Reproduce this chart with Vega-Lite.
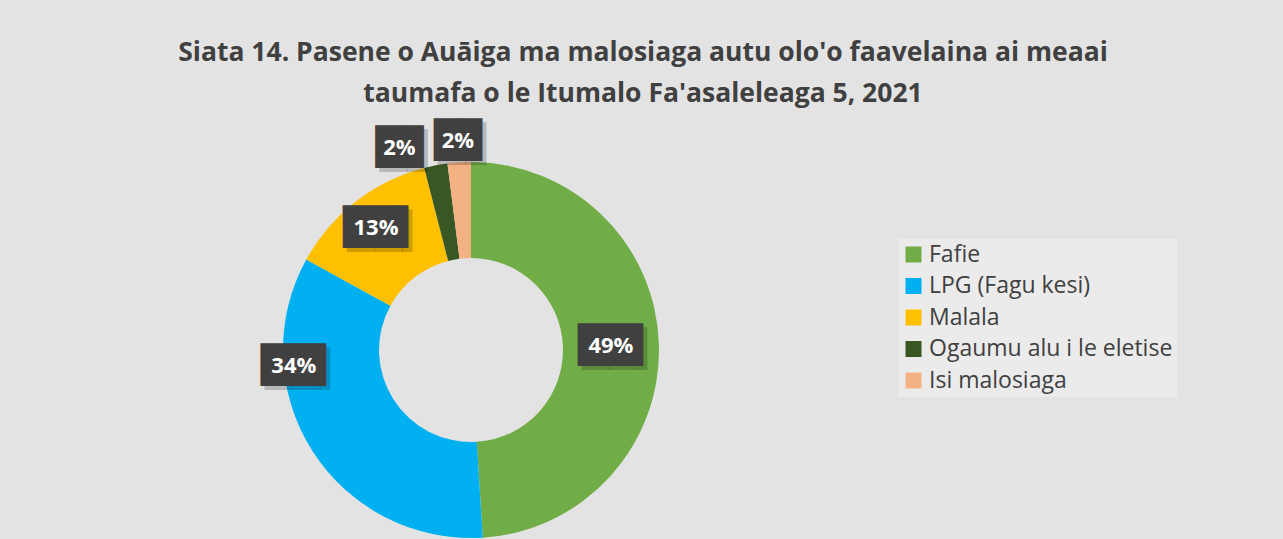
{
  "$schema": "https://vega.github.io/schema/vega-lite/v6.json",
  "width": 942,
  "height": 378,
  "autosize": {"type": "none"},
  "padding": {"left": 0, "top": 161, "right": 341, "bottom": 0},
  "background": "#e3e3e3",
  "title": {
    "text": ["Siata 14. Pasene o Auāiga ma malosiaga autu olo'o faavelaina ai meaai", "taumafa o le Itumalo Fa'asaleleaga 5, 2021"],
    "font": "Open Sans",
    "fontSize": 26.5,
    "fontWeight": "bold",
    "color": "#404040",
    "anchor": "middle",
    "dx": 172,
    "offset": 16,
    "lineHeight": 41
  },
  "config": {"view": {"stroke": null}},
  "data": {
    "values": [
      {"cat": "Fafie", "value": 49, "label": "49%", "o": 1},
      {"cat": "LPG (Fagu kesi)", "value": 34, "label": "34%", "o": 2},
      {"cat": "Malala", "value": 13, "label": "13%", "o": 3},
      {"cat": "Ogaumu alu i le eletise", "value": 2, "label": "2%", "o": 4},
      {"cat": "Isi malosiaga", "value": 2, "label": "2%", "o": 5}
    ]
  },
  "encoding": {
    "theta": {"field": "value", "type": "quantitative", "stack": true},
    "order": {"field": "o", "type": "quantitative"}
  },
  "layer": [
    {
      "mark": {"type": "arc", "outerRadius": 188, "innerRadius": 92, "strokeWidth": 0},
      "encoding": {
        "color": {
          "field": "cat",
          "type": "nominal",
          "scale": {
            "domain": ["Fafie", "LPG (Fagu kesi)", "Malala", "Ogaumu alu i le eletise", "Isi malosiaga"],
            "range": ["#70ad47", "#00b0f0", "#ffc000", "#385723", "#f4b183"]
          },
          "legend": {
            "title": null,
            "orient": "none",
            "legendX": 898,
            "legendY": 78,
            "direction": "vertical",
            "symbolType": "square",
            "symbolSize": 256,
            "symbolStrokeWidth": 0,
            "labelFont": "Open Sans",
            "labelFontSize": 23,
            "labelColor": "#404040",
            "labelOffset": 4,
            "labelLimit": 400,
            "rowPadding": 7.5,
            "padding": 4,
            "fillColor": "rgba(255,255,255,0.3)"
          }
        }
      }
    },
    {"mark": {"type": "text", "radius": 140, "dx": -29, "dy": 4, "font": "DejaVu Sans", "fontSize": 36, "align": "left", "baseline": "middle", "color": "rgba(0,0,0,0.2)"},
     "encoding": {"text": {"condition": {"test": "datum.cat === 'Fafie'", "value": "██▍"}, "value": ""}}},
    {"mark": {"type": "text", "radius": 140, "dx": -33, "font": "DejaVu Sans", "fontSize": 36, "align": "left", "baseline": "middle", "color": "#404040"},
     "encoding": {"text": {"condition": {"test": "datum.cat === 'Fafie'", "value": "██▍"}, "value": ""}}},
    {"mark": {"type": "text", "radius": 140, "font": "Open Sans", "fontSize": 22, "fontWeight": "bold", "align": "center", "baseline": "middle", "color": "white"},
     "encoding": {"text": {"condition": {"test": "datum.cat === 'Fafie'", "field": "label"}, "value": ""}}},

    {"mark": {"type": "text", "radius": 140, "dx": -88, "dy": -55, "font": "DejaVu Sans", "fontSize": 36, "align": "left", "baseline": "middle", "color": "rgba(0,0,0,0.2)"},
     "encoding": {"text": {"condition": {"test": "datum.cat === 'LPG (Fagu kesi)'", "value": "██▍"}, "value": ""}}},
    {"mark": {"type": "text", "radius": 140, "dx": -92, "dy": -59, "font": "DejaVu Sans", "fontSize": 36, "align": "left", "baseline": "middle", "color": "#404040"},
     "encoding": {"text": {"condition": {"test": "datum.cat === 'LPG (Fagu kesi)'", "value": "██▍"}, "value": ""}}},
    {"mark": {"type": "text", "radius": 140, "dx": -59, "dy": -59, "font": "Open Sans", "fontSize": 22, "fontWeight": "bold", "align": "center", "baseline": "middle", "color": "white"},
     "encoding": {"text": {"condition": {"test": "datum.cat === 'LPG (Fagu kesi)'", "field": "label"}, "value": ""}}},

    {"mark": {"type": "text", "radius": 155, "dx": -29, "dy": 4, "font": "DejaVu Sans", "fontSize": 36, "align": "left", "baseline": "middle", "color": "rgba(0,0,0,0.2)"},
     "encoding": {"text": {"condition": {"test": "datum.cat === 'Malala'", "value": "██▍"}, "value": ""}}},
    {"mark": {"type": "text", "radius": 155, "dx": -33, "font": "DejaVu Sans", "fontSize": 36, "align": "left", "baseline": "middle", "color": "#404040"},
     "encoding": {"text": {"condition": {"test": "datum.cat === 'Malala'", "value": "██▍"}, "value": ""}}},
    {"mark": {"type": "text", "radius": 155, "font": "Open Sans", "fontSize": 22, "fontWeight": "bold", "align": "center", "baseline": "middle", "color": "white"},
     "encoding": {"text": {"condition": {"test": "datum.cat === 'Malala'", "field": "label"}, "value": ""}}},

    {"mark": {"type": "text", "radius": 206, "dx": -53, "dy": 4, "font": "DejaVu Sans", "fontSize": 36, "align": "left", "baseline": "middle", "color": "rgba(0,0,0,0.2)"},
     "encoding": {"text": {"condition": {"test": "datum.cat === 'Ogaumu alu i le eletise'", "value": "█▊"}, "value": ""}}},
    {"mark": {"type": "text", "radius": 206, "dx": -57, "font": "DejaVu Sans", "fontSize": 36, "align": "left", "baseline": "middle", "color": "#404040"},
     "encoding": {"text": {"condition": {"test": "datum.cat === 'Ogaumu alu i le eletise'", "value": "█▊"}, "value": ""}}},
    {"mark": {"type": "text", "radius": 206, "dx": -33, "font": "Open Sans", "fontSize": 22, "fontWeight": "bold", "align": "center", "baseline": "middle", "color": "white"},
     "encoding": {"text": {"condition": {"test": "datum.cat === 'Ogaumu alu i le eletise'", "field": "label"}, "value": ""}}},

    {"mark": {"type": "text", "radius": 209, "dx": -20, "dy": 4, "font": "DejaVu Sans", "fontSize": 36, "align": "left", "baseline": "middle", "color": "rgba(0,0,0,0.2)"},
     "encoding": {"text": {"condition": {"test": "datum.cat === 'Isi malosiaga'", "value": "█▊"}, "value": ""}}},
    {"mark": {"type": "text", "radius": 209, "dx": -24, "font": "DejaVu Sans", "fontSize": 36, "align": "left", "baseline": "middle", "color": "#404040"},
     "encoding": {"text": {"condition": {"test": "datum.cat === 'Isi malosiaga'", "value": "█▊"}, "value": ""}}},
    {"mark": {"type": "text", "radius": 209, "font": "Open Sans", "fontSize": 22, "fontWeight": "bold", "align": "center", "baseline": "middle", "color": "white"},
     "encoding": {"text": {"condition": {"test": "datum.cat === 'Isi malosiaga'", "field": "label"}, "value": ""}}}
  ]
}
